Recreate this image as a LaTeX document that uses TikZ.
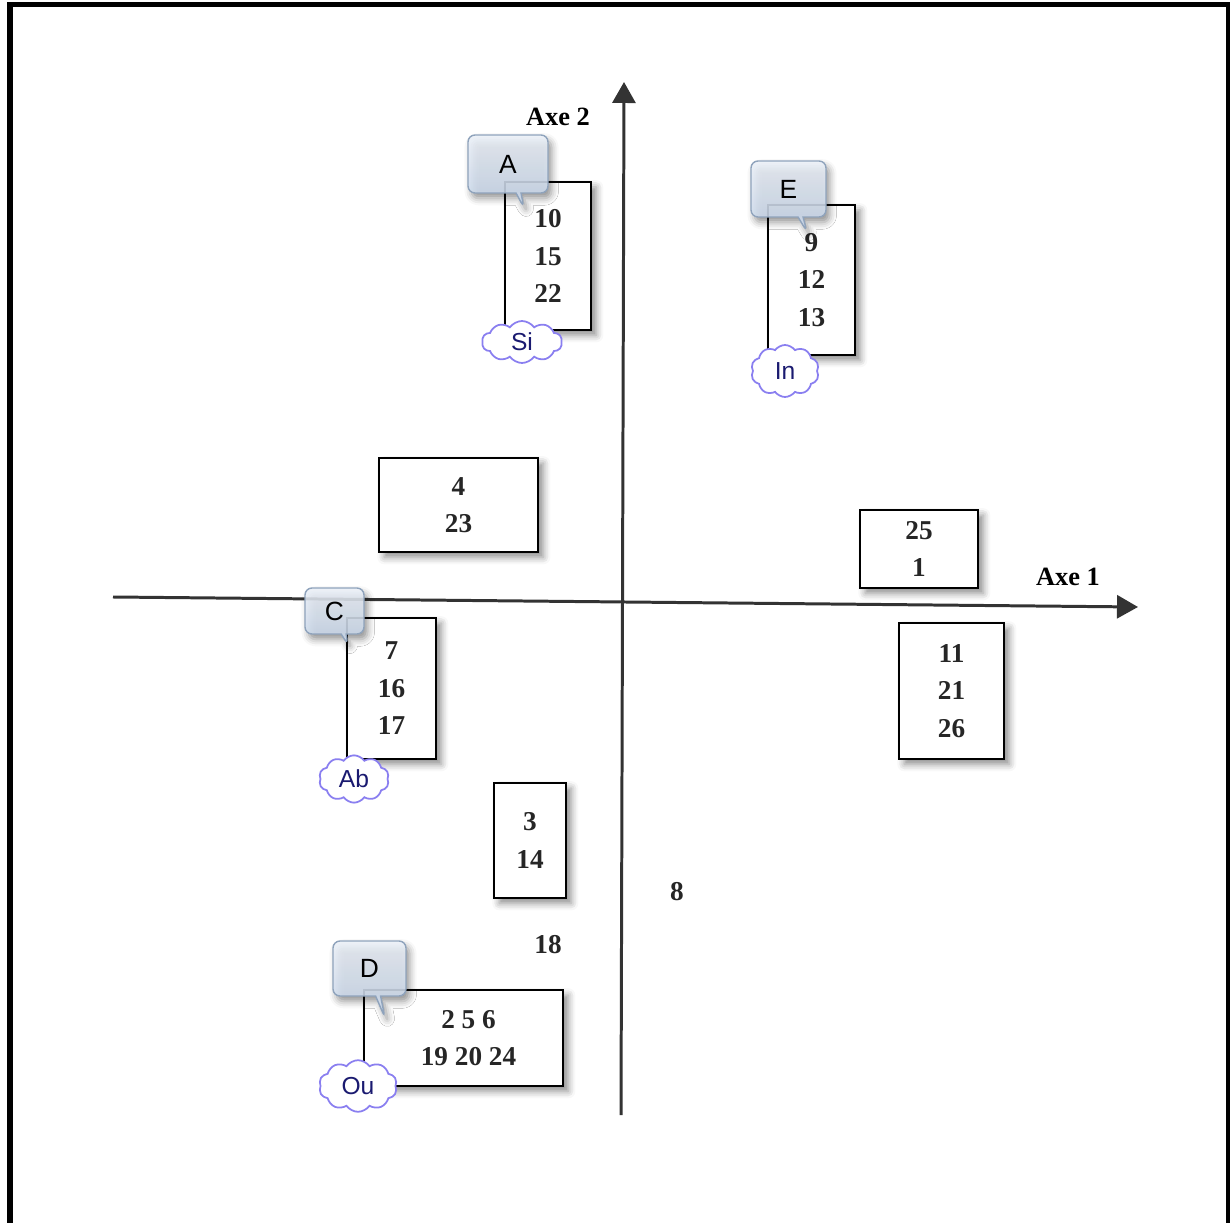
\documentclass[tikz,border=0pt]{standalone}
\usepackage{fontspec}
\setmainfont{Liberation Serif}
\setsansfont{Liberation Sans}
\usetikzlibrary{arrows.meta, shapes.callouts, shapes.symbols, shadows.blur}

\definecolor{axisgray}{HTML}{333333}
\definecolor{numgray}{HTML}{262626}
\definecolor{tagtop}{HTML}{EEF3FA}
\definecolor{tagbot}{HTML}{C6D6EB}
\definecolor{tagedge}{HTML}{8FA3BC}
\definecolor{puffline}{HTML}{8A7FF0}
\definecolor{pufftext}{HTML}{1A1A70}

\begin{document}
\begin{tikzpicture}[
  axis/.style={draw=axisgray, line width=1.7pt, -{Triangle[length=0.42cm, width=0.46cm]}},
  axislabel/.style={font=\bfseries\fontsize{15}{15}\selectfont, text=black},
  numbox/.style={draw=black, line width=1.6pt, fill=white, align=center, inner sep=0pt,
    font=\bfseries\fontsize{15.5}{21.3}\selectfont, text=numgray,
    blur shadow={shadow xshift=3pt, shadow yshift=-3pt, shadow blur radius=4pt, shadow opacity=45}},
  freenum/.style={font=\bfseries\fontsize{15.5}{15.5}\selectfont, text=numgray},
  tag/.style={rectangle callout, rounded corners=4pt, draw=tagedge, line width=0.8pt,
    top color=tagtop, bottom color=tagbot, fill opacity=0.85, text opacity=1,
    callout pointer width=0.1cm, inner sep=0pt, text=black,
    font=\sffamily\fontsize{15}{15}\selectfont,
    blur shadow={shadow xshift=2pt, shadow yshift=-3pt, shadow blur radius=4pt, shadow opacity=50}},
  puff/.style={cloud, cloud puffs=10, cloud puff arc=110, draw=puffline, line width=1pt,
    fill=white, inner sep=0pt, text=pufftext, font=\sffamily\fontsize{14}{14}\selectfont}
]
\useasboundingbox (0,0) rectangle (24.6,24.44);

% outer frame (open at the bottom)
\draw[line width=0.1cm] (0.2,-0.2) -- (0.2,24.34) -- (24.56,24.34) -- (24.56,-0.2);

% axes
\coordinate (xfrom) at (2.26,12.5);
\coordinate (xto) at (22.76,12.3);
\coordinate (yfrom) at (12.42,2.14);
\coordinate (yto) at (12.48,22.8);
\draw[axis] (xfrom) -- (xto);
\draw[axis] (yfrom) -- (yto);
\node[axislabel] (labx) at (21.36,12.9) {Axe 1};
\node[axislabel] (laby) at (11.16,22.1) {Axe 2};

% groups of individuals
\node[numbox, minimum width=1.72cm, minimum height=2.96cm] (boxA) at (10.96,19.32) {10\\15\\22};
\node[numbox, minimum width=1.74cm, minimum height=3.00cm] (boxE) at (16.23,18.84) {9\\12\\13};
\node[numbox, minimum width=3.18cm, minimum height=1.88cm] (box4) at (9.17,14.34) {4\\23};
\node[numbox, minimum width=2.36cm, minimum height=1.56cm] (box25) at (18.38,13.46) {25\\1};
\node[numbox, minimum width=1.78cm, minimum height=2.82cm] (boxC) at (7.83,10.67) {7\\16\\17};
\node[numbox, minimum width=2.10cm, minimum height=2.72cm] (box11) at (19.03,10.62) {11\\21\\26};
\node[numbox, minimum width=1.44cm, minimum height=2.30cm] (box3) at (10.60,7.63) {3\\14};
\node[numbox, minimum width=3.98cm, minimum height=1.92cm, text depth=0pt] (boxD) at (9.27,3.68) {\hspace*{0.2cm}2 5 6\\\hspace*{0.2cm}19 20 24};

% isolated points
\node[freenum] (pt8) at (13.54,6.6) {8};
\node[freenum] (pt18) at (10.96,5.54) {18};

% class tags
\coordinate (tipA) at (10.48,20.28);
\coordinate (tipE) at (16.14,19.80);
\coordinate (tipC) at (6.96,11.54);
\coordinate (tipD) at (7.70,4.08);
\node[tag, minimum width=1.60cm, minimum height=1.16cm, callout absolute pointer={(tipA)}] (tagA) at (10.16,21.16) {A};
\node[tag, minimum width=1.50cm, minimum height=1.12cm, callout absolute pointer={(tipE)}] (tagE) at (15.77,20.66) {E};
\node[tag, minimum width=1.18cm, minimum height=0.92cm, callout absolute pointer={(tipC)}] (tagC) at (6.69,12.22) {C};
\node[tag, minimum width=1.46cm, minimum height=1.10cm, callout absolute pointer={(tipD)}] (tagD) at (7.39,5.07) {D};

% profile clouds
\node[puff, minimum width=1.60cm, minimum height=0.84cm] (puffSi) at (10.44,17.60) {Si};
\node[puff, minimum width=1.36cm, minimum height=1.04cm] (puffIn) at (15.70,17.02) {In};
\node[puff, minimum width=1.40cm, minimum height=0.92cm] (puffAb) at (7.08,8.86) {Ab};
\node[puff, minimum width=1.56cm, minimum height=0.72cm] (puffOu) at (7.16,2.72) {Ou};
\end{tikzpicture}
\end{document}
